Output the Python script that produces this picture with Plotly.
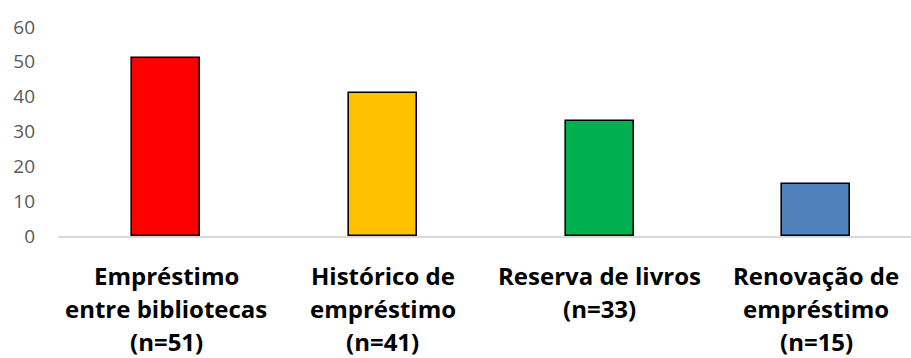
import plotly.graph_objects as go

# Service categories; each label is printed as a stack of lines under its bar
categories = ["emp_bib", "hist_emp", "reserva", "renov"]
category_lines = [
    ["Empréstimo", "entre bibliotecas", "(n=51)"],
    ["Histórico de", "empréstimo", "(n=41)"],
    ["Reserva de livros", "(n=33)"],
    ["Renovação de", "empréstimo", "(n=15)"],
]
counts = [51, 41, 33, 15]
bar_colors = ["#FF0000", "#FFC000", "#00B050", "#4F81BD"]

y_ticks = [0, 10, 20, 30, 40, 50, 60]

# label typography: first line offset below the axis and the line pitch (px)
LABEL_SIZE = 24
FIRST_LINE_SHIFT = 22
LINE_PITCH = 33

fig = go.Figure(
    go.Bar(
        x=list(range(len(categories))),
        y=counts,
        width=0.314,
        marker=dict(color=bar_colors, line=dict(color="#000000", width=1.6)),
        hoverinfo="skip",
    )
)

annotations = []
for i, lines in enumerate(category_lines):
    for k, text in enumerate(lines):
        annotations.append(
            dict(
                x=i,
                xref="x",
                y=0,
                yref="paper",
                yanchor="top",
                xanchor="center",
                yshift=-(FIRST_LINE_SHIFT + k * LINE_PITCH),
                borderpad=0,
                text=text,
                showarrow=False,
                font=dict(family="Open Sans", size=LABEL_SIZE, color="#000000", weight="bold"),
            )
        )

fig.update_layout(
    width=911,
    height=358,
    margin=dict(l=58, r=0, t=26.5, b=122),
    paper_bgcolor="white",
    plot_bgcolor="white",
    showlegend=False,
    bargap=0,
    font=dict(family="Open Sans", color="#000000"),
    annotations=annotations,
)

fig.update_xaxes(
    range=[-0.5, 3.437],
    tickmode="array",
    tickvals=list(range(len(categories))),
    showticklabels=False,
    ticks="",
    showgrid=False,
    zeroline=False,
    showline=True,
    linecolor="#D9D9D9",
    linewidth=2,
    fixedrange=True,
)

fig.update_yaxes(
    range=[0, 60],
    tickmode="array",
    tickvals=y_ticks,
    ticktext=[str(v) for v in y_ticks],
    tickfont=dict(family="Open Sans", size=19, color="#595959"),
    ticks="",
    ticklabelstandoff=22,
    showgrid=False,
    zeroline=False,
    showline=False,
    fixedrange=True,
)

fig.write_html("out.html", config={"displayModeBar": False})
